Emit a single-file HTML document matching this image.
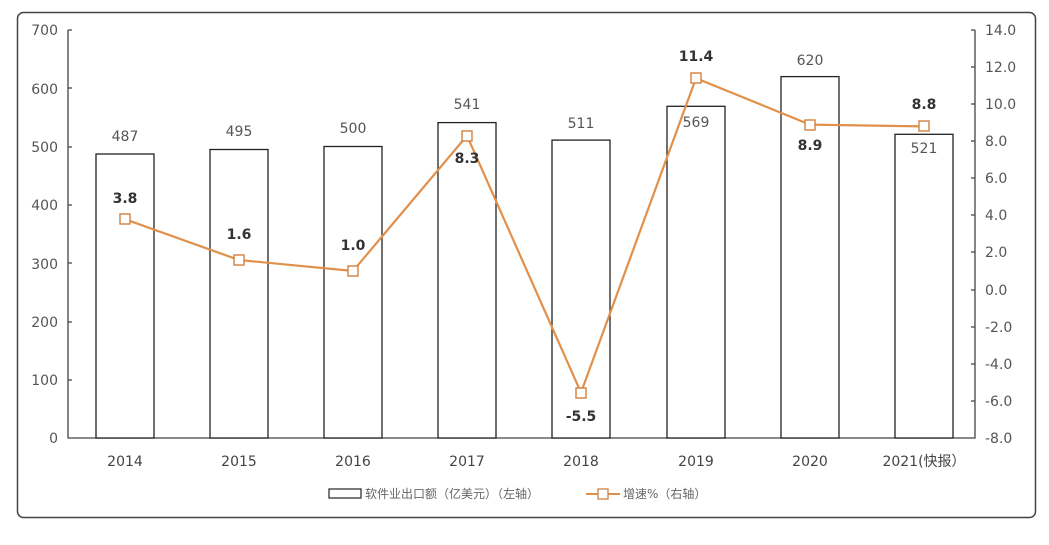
<!DOCTYPE html>
<html><head><meta charset="utf-8"><style>
body{margin:0;background:#fff;width:1049px;height:540px;overflow:hidden}
</style></head><body>
<svg width="1049" height="540" xmlns="http://www.w3.org/2000/svg" font-family="'DejaVu Sans','Noto Sans CJK SC',sans-serif">
<rect x="17.5" y="12.5" width="1018" height="505" rx="6" fill="#fff" stroke="#444" stroke-width="1.5"/>
<g fill="#555" font-size="14" text-anchor="end">
<text x="58" y="35">700</text><text x="58" y="94">600</text><text x="58" y="152">500</text><text x="58" y="210">400</text><text x="58" y="269">300</text><text x="58" y="327">200</text><text x="58" y="385">100</text><text x="58" y="443">0</text>
</g>
<g fill="#555" font-size="14" text-anchor="start">
<text x="985" y="35">14.0</text><text x="985" y="72">12.0</text><text x="985" y="109">10.0</text><text x="985" y="146">8.0</text><text x="985" y="183">6.0</text><text x="985" y="220">4.0</text><text x="985" y="257">2.0</text><text x="985" y="295">0.0</text><text x="985" y="332">-2.0</text><text x="985" y="369">-4.0</text><text x="985" y="406">-6.0</text><text x="985" y="443">-8.0</text>
</g>
<g stroke="#444" stroke-width="1.3" fill="none">
<path d="M68 30V438H975V30"/>
<path d="M68 30h4M68 88h4M68 147h4M68 205h4M68 263h4M68 322h4M68 380h4"/>
<path d="M975 30h-4M975 67h-4M975 104h-4M975 141h-4M975 178h-4M975 215h-4M975 252h-4M975 290h-4M975 327h-4M975 364h-4M975 401h-4"/>
</g>
<g fill="#fff" stroke="#222" stroke-width="1.3">
<rect x="96" y="154" width="58" height="284"/>
<rect x="210" y="149.5" width="58" height="288.5"/>
<rect x="324" y="146.5" width="58" height="291.5"/>
<rect x="438" y="122.6" width="58" height="315.4"/>
<rect x="552" y="140.1" width="58" height="297.9"/>
<rect x="667" y="106.3" width="58" height="331.7"/>
<rect x="781" y="76.6" width="58" height="361.4"/>
<rect x="895" y="134.3" width="58" height="303.7"/>
</g>
<g fill="#555" font-size="14" text-anchor="middle">
<text x="125" y="141">487</text><text x="239" y="136">495</text><text x="353" y="133">500</text><text x="467" y="109">541</text><text x="581" y="128">511</text><text x="696" y="127">569</text><text x="810" y="65">620</text><text x="924" y="153">521</text>
</g>
<polyline fill="none" stroke="#e0904a" stroke-width="2.2" points="125,219.2 239,260 353,271 467,135.7 581,392.6 696,78.2 810,124.6 924,126.4"/>
<g fill="#fff" stroke="#d08040" stroke-width="1.4">
<rect x="120" y="214" width="10" height="10"/><rect x="234" y="255" width="10" height="10"/><rect x="348" y="266" width="10" height="10"/><rect x="462" y="131" width="10" height="10"/><rect x="576" y="388" width="10" height="10"/><rect x="691" y="73" width="10" height="10"/><rect x="805" y="120" width="10" height="10"/><rect x="919" y="121" width="10" height="10"/>
</g>
<g fill="#333" font-size="14" font-weight="bold" text-anchor="middle">
<text x="125" y="203">3.8</text><text x="239" y="239">1.6</text><text x="353" y="250">1.0</text><text x="467" y="163">8.3</text><text x="581" y="421">-5.5</text><text x="696" y="61">11.4</text><text x="810" y="150">8.9</text><text x="924" y="109">8.8</text>
</g>
<g fill="#444" font-size="14" text-anchor="middle">
<text x="125" y="466">2014</text><text x="239" y="466">2015</text><text x="353" y="466">2016</text><text x="467" y="466">2017</text><text x="581" y="466">2018</text><text x="696" y="466">2019</text><text x="810" y="466">2020</text><text x="924" y="466">2021(快报）</text>
</g>
<rect x="329" y="489" width="32" height="9" fill="#fff" stroke="#333" stroke-width="1.3"/>
<text x="365" y="498" font-size="12" fill="#666">软件业出口额（亿美元）（左轴）</text>
<line x1="586" y1="494" x2="620" y2="494" stroke="#e0904a" stroke-width="2"/>
<rect x="598" y="489" width="10" height="10" fill="#fff" stroke="#d08040" stroke-width="1.3"/>
<text x="623" y="498" font-size="12" fill="#666">增速%（右轴）</text>
</svg>
</body></html>
